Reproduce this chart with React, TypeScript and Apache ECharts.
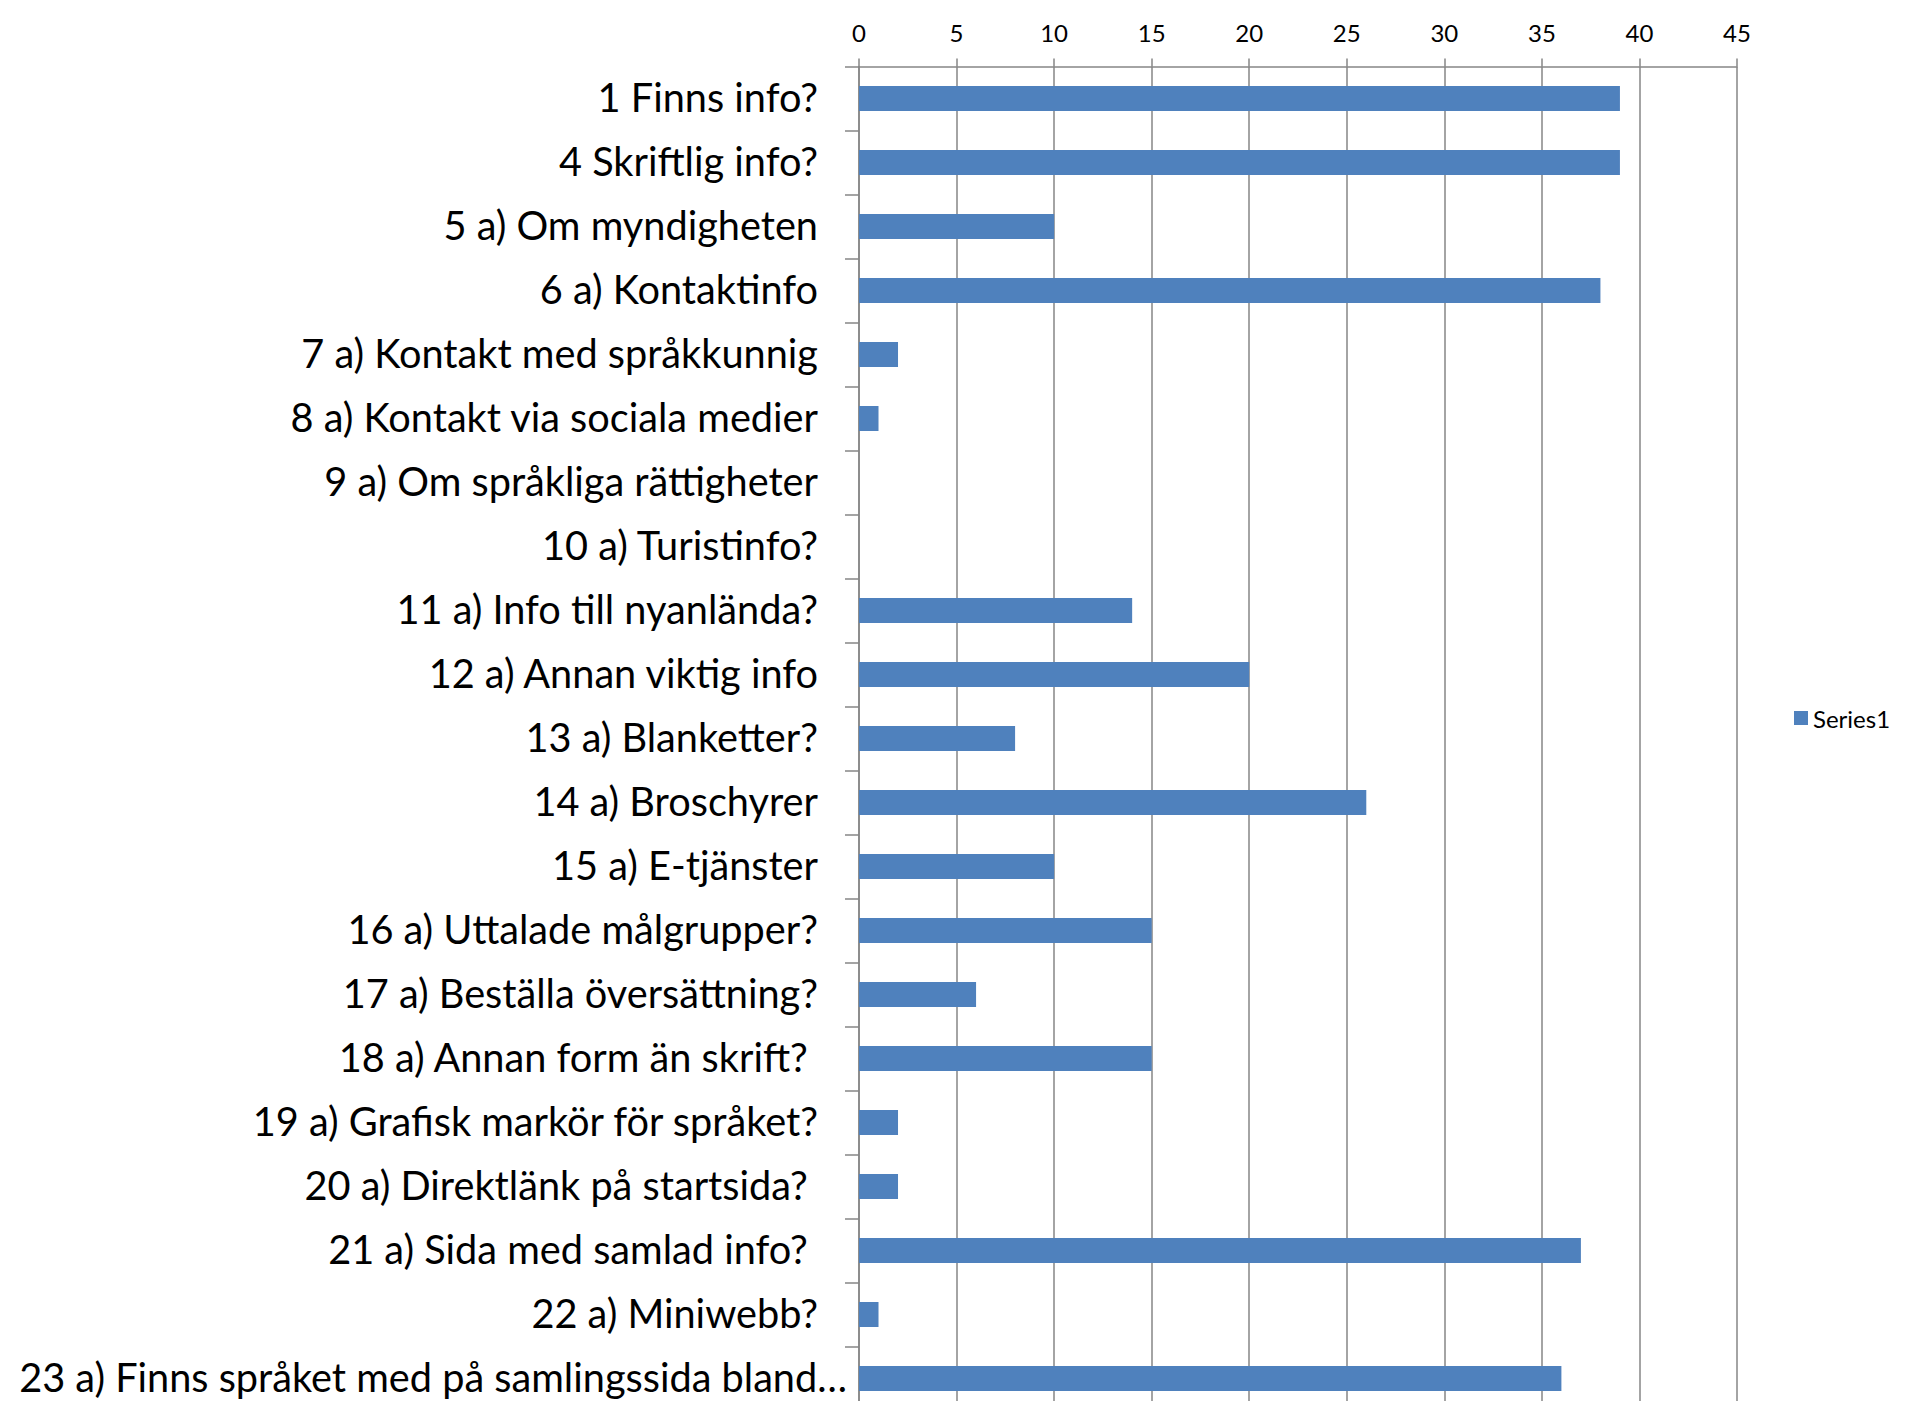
import React, { useEffect, useRef } from "react";
import * as echarts from "echarts";

const categories = [
  "1 Finns info?",
  "4 Skriftlig info?",
  "5 a) Om myndigheten",
  "6 a) Kontaktinfo",
  "7 a) Kontakt med språkkunnig",
  "8 a) Kontakt via sociala medier",
  "9 a) Om språkliga rättigheter",
  "10 a) Turistinfo?",
  "11 a) Info till nyanlända?",
  "12 a) Annan viktig info",
  "13 a) Blanketter?",
  "14 a) Broschyrer",
  "15 a) E-tjänster",
  "16 a) Uttalade målgrupper?",
  "17 a) Beställa översättning?",
  "18 a) Annan form än skrift? ",
  "19 a) Grafisk markör för språket?",
  "20 a) Direktlänk på startsida? ",
  "21 a) Sida med samlad info? ",
  "22 a) Miniwebb?",
  "23 a) Finns språket med på samlingssida bland…",
];
const series1 = [39, 39, 10, 38, 2, 1, 0, 0, 14, 20, 8, 26, 10, 15, 6, 15, 2, 2, 37, 1, 36];
const seriesName = "Series1";

const FONT = "Lato, 'Open Sans', sans-serif";
const GRAY = "#868686";

export default function App() {
  const ref = useRef<HTMLDivElement>(null);
  useEffect(() => {
    if (!ref.current) return;
    const chart = echarts.init(ref.current, null, { renderer: "svg" });
    const last = categories.length - 1;
    chart.setOption({
      animation: false,
      backgroundColor: "#ffffff",
      legend: {
        show: true,
        data: [seriesName],
        orient: "vertical",
        left: 1789,
        top: 701,
        itemWidth: 14,
        itemHeight: 14,
        itemGap: 6,
        icon: "rect",
        textStyle: { fontFamily: FONT, fontSize: 24, color: "#000" },
      },
      grid: { left: 859, right: 168, top: 66.5, height: 1344, containLabel: false },
      xAxis: {
        type: "value",
        position: "top",
        min: 0,
        max: 45,
        interval: 5,
        axisLine: { show: true, lineStyle: { color: GRAY, width: 1.5 } },
        axisTick: { show: true, length: 8, lineStyle: { color: GRAY, width: 1.5 } },
        splitLine: { show: true, lineStyle: { color: GRAY, width: 1.5 } },
        axisLabel: { fontFamily: FONT, fontSize: 24, color: "#000", margin: 22 },
      },
      yAxis: {
        type: "category",
        inverse: true,
        data: categories,
        axisLine: { show: true, lineStyle: { color: GRAY, width: 1.5 } },
        axisTick: { show: true, length: 14, alignWithLabel: false, lineStyle: { color: GRAY, width: 1.5 } },
        axisLabel: {
          fontFamily: FONT,
          fontSize: 39.7,
          color: "#000",
          margin: 12,
          formatter: (v: string, i: number) => (i === last ? `{b|${v}}` : `{a|${v}}`),
          rich: {
            a: { fontFamily: FONT, fontSize: 39.7, color: "#000", padding: [0, 29, 4, 0] },
            b: { fontFamily: FONT, fontSize: 39.7, color: "#000", padding: [0, 0, 4, 0] },
          },
        },
      },
      series: [
        {
          name: seriesName,
          type: "bar",
          data: series1,
          barWidth: "39%",
          itemStyle: { color: "#4F81BD" },
        },
      ],
    });
    return () => chart.dispose();
  }, []);
  return (
    <div
      style={{ position: "fixed", left: 0, top: 0, width: 1905, height: 1401, overflow: "hidden", background: "#fff" }}
    >
      <div ref={ref} style={{ width: 1905, height: 1411 }} />
    </div>
  );
}
